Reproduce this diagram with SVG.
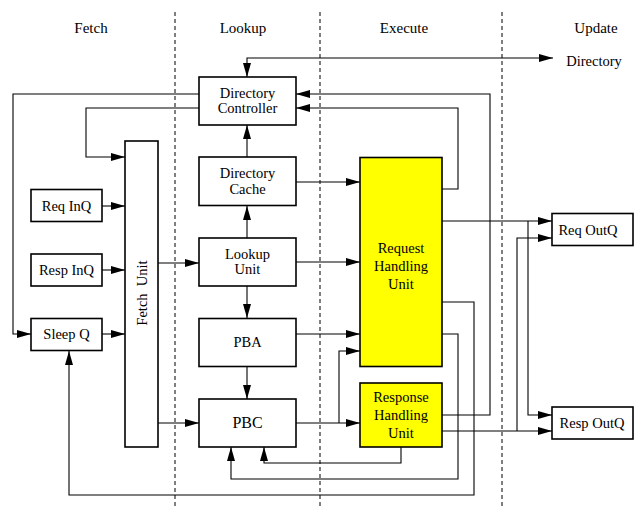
<svg xmlns="http://www.w3.org/2000/svg" width="635" height="509" viewBox="0 0 635 509">
<style>
text{font-family:"Liberation Serif","Times New Roman",serif;fill:#000;text-anchor:middle;dominant-baseline:central}
.hdr{font-size:15px}
.lbl{font-size:14.5px}
.box{fill:#fff;stroke:#000;stroke-width:1.6}
.yel{fill:#ffff00;stroke:#000;stroke-width:1.6}
.sep{stroke:#000;stroke-width:1;stroke-dasharray:4,3;fill:none}
.c{fill:none;stroke:#000;stroke-width:1.1}
.a{marker-end:url(#ah)}
</style>
<defs>
<marker id="ah" markerWidth="14" markerHeight="8" refX="14" refY="4" orient="auto-start-reverse" markerUnits="userSpaceOnUse">
<path d="M0,0 L14,4 L0,8 Z" fill="#000"/>
</marker>
</defs>
<g id="stages">
<line class="sep" x1="175" y1="12" x2="175" y2="509"/>
<line class="sep" x1="320" y1="12" x2="320" y2="509"/>
<line class="sep" x1="502" y1="12" x2="502" y2="509"/>
<text class="hdr" x="91" y="28">Fetch</text>
<text class="hdr" x="243" y="28">Lookup</text>
<text class="hdr" x="404" y="28">Execute</text>
<text class="hdr" x="596" y="28">Update</text>
<text class="lbl" x="594" y="61">Directory</text>
</g>
<g id="connectors">
<path class="c" d="M247,77 L247,58 L553,58" marker-start="url(#ah)" marker-end="url(#ah)"/>
<path class="c a" d="M199,94 L13,94 L13,334 L31,334"/>
<path class="c a" d="M199,108 L86,108 L86,157 L125,157"/>
<path class="c a" d="M102,206 L125,206"/>
<path class="c a" d="M102,270 L125,270"/>
<path class="c a" d="M102,334 L125,334"/>
<path class="c a" d="M158,263 L199,263"/>
<path class="c a" d="M158,423 L199,423"/>
<path class="c a" d="M247,157 L247,125"/>
<path class="c a" d="M247,238 L247,206"/>
<path class="c a" d="M247,286 L247,318"/>
<path class="c a" d="M247,367 L247,399"/>
<path class="c a" d="M296,182 L360,182"/>
<path class="c a" d="M296,262 L360,262"/>
<path class="c a" d="M296,334 L360,334"/>
<path class="c a" d="M296,423 L360,423"/>
<path class="c a" d="M339,423 L339,351 L360,351"/>
<path class="c a" d="M442,189 L458,189 L458,108 L296,108"/>
<path class="c a" d="M442,415 L490,415 L490,94 L296,94"/>
<path class="c a" d="M442,221 L552,221"/>
<path class="c a" d="M528,221 L528,415 L552,415"/>
<path class="c a" d="M442,431 L552,431"/>
<path class="c a" d="M517,431 L517,238 L552,238"/>
<path class="c a" d="M442,302 L474,302 L474,495 L69,495 L69,351"/>
<path class="c a" d="M442,334 L458,334 L458,479 L231,479 L231,447"/>
<path class="c a" d="M401,447 L401,463 L264,463 L264,447"/>
</g>
<g id="dirController">
<rect class="box" x="199" y="77" width="97" height="48"/>
<text class="lbl" x="247.5" y="93">Directory</text>
<text class="lbl" x="247.5" y="108">Controller</text>
</g>
<g id="dirCache">
<rect class="box" x="199" y="157" width="97" height="48.5"/>
<text class="lbl" x="247.5" y="173">Directory</text>
<text class="lbl" x="247.5" y="189">Cache</text>
</g>
<g id="lookupUnit">
<rect class="box" x="199" y="238" width="97" height="48"/>
<text class="lbl" x="247.5" y="254">Lookup</text>
<text class="lbl" x="247.5" y="269">Unit</text>
</g>
<g id="pba">
<rect class="box" x="199" y="318.5" width="97" height="48"/>
<text class="lbl" x="247.5" y="342">PBA</text>
</g>
<g id="pbc">
<rect class="box" x="199" y="399" width="97" height="48"/>
<text x="247.5" y="422" style="font-size:16px">PBC</text>
</g>
<g id="fetchUnit">
<rect class="box" x="125" y="141" width="33" height="306"/>
<text class="lbl" x="0" y="0" transform="translate(142,293) rotate(-90)">Fetch&#160; Unit</text>
</g>
<g id="reqInQ">
<rect class="box" x="31" y="189.5" width="71" height="32"/>
<text class="lbl" x="66.5" y="205.5">Req InQ</text>
</g>
<g id="respInQ">
<rect class="box" x="31" y="254" width="71" height="32"/>
<text class="lbl" x="66.5" y="270">Resp InQ</text>
</g>
<g id="sleepQ">
<rect class="box" x="31" y="318.5" width="71" height="32"/>
<text class="lbl" x="66.5" y="334">Sleep Q</text>
</g>
<g id="requestHU">
<rect class="yel" x="360" y="157.5" width="82" height="209"/>
<text class="lbl" x="401" y="248">Request</text>
<text class="lbl" x="401" y="266">Handling</text>
<text class="lbl" x="401" y="284">Unit</text>
</g>
<g id="responseHU">
<rect class="yel" x="360" y="383" width="82" height="64"/>
<text class="lbl" x="401" y="397">Response</text>
<text class="lbl" x="401" y="415">Handling</text>
<text class="lbl" x="401" y="433">Unit</text>
</g>
<g id="reqOutQ">
<rect class="box" x="552" y="213.5" width="81" height="32"/>
<text class="lbl" x="588" y="229.5">Req OutQ</text>
</g>
<g id="respOutQ">
<rect class="box" x="552" y="407" width="81" height="32"/>
<text class="lbl" x="592" y="423">Resp OutQ</text>
</g>
</svg>
